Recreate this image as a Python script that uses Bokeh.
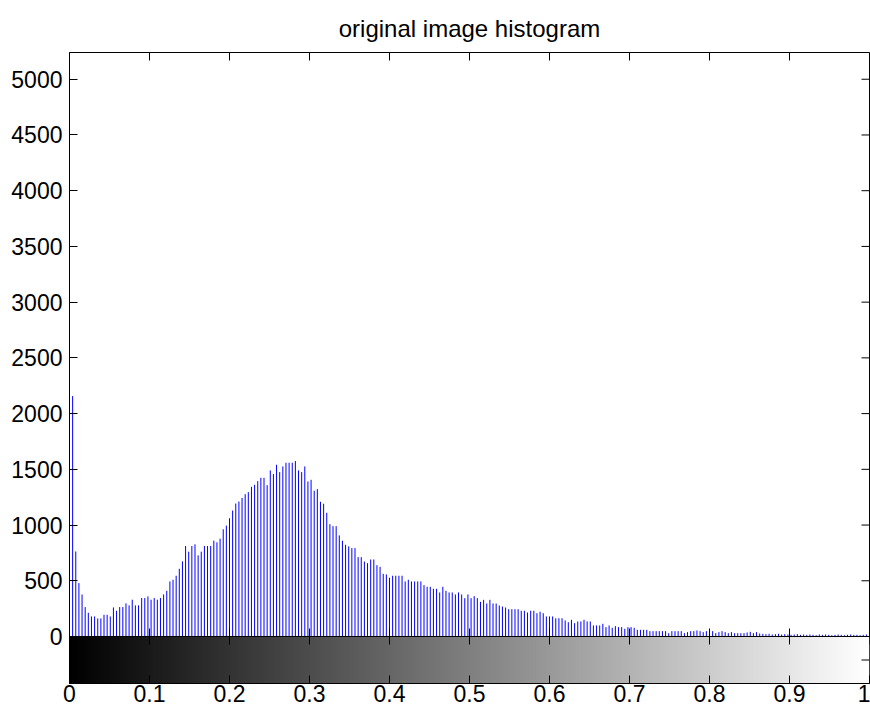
import numpy as np
from bokeh.plotting import figure
from bokeh.models import Range1d, FixedTicker, LinearAxis, Span, LinearColorMapper
from bokeh.palettes import gray
from bokeh.embed import file_html
from bokeh.resources import INLINE

title_text = "original image histogram"

x_ticks = [0, 0.1, 0.2, 0.3, 0.4, 0.5, 0.6, 0.7, 0.8, 0.9, 1]
x_tick_labels = ["0", "0.1", "0.2", "0.3", "0.4", "0.5", "0.6", "0.7", "0.8", "0.9", "1"]
y_ticks = [0, 500, 1000, 1500, 2000, 2500, 3000, 3500, 4000, 4500, 5000]
y_tick_labels = ["0", "500", "1000", "1500", "2000", "2500", "3000", "3500", "4000", "4500", "5000"]
y_max = 5240

# pixel counts for the 256 grey levels
counts_dark = [5600,
    2157, 763, 479, 377, 264, 213, 180, 180, 162, 162,
    195, 195, 180, 261, 231, 264, 264, 297, 279, 330,
    279, 279, 345, 345, 360, 330, 345, 330, 345, 377,
    410, 494, 509, 545, 608, 674, 812, 761, 812, 827,
    728, 761, 812, 812, 812, 860, 845, 878, 962, 995,
    1061, 1130, 1193, 1211, 1244, 1277, 1295, 1343, 1361, 1394]
counts_peak = [
    1424, 1424, 1358, 1490, 1457, 1541, 1475, 1526, 1559, 1559,
    1559, 1574, 1490, 1475, 1526, 1391, 1406, 1308, 1323, 1209,
    1191, 1110, 1008, 990, 990, 907, 859, 823, 808, 793,
    793, 712, 712, 673, 658, 691, 691, 640, 625, 562,
    557, 527, 545]
counts_mid = [
    545, 545, 545, 494, 509, 494, 494, 494, 494, 461,
    446, 446, 428, 428, 395, 446, 410, 395, 395, 377,
    395, 377, 344, 377, 344, 362, 344, 311, 329, 296,
    329, 296, 296, 278, 269, 260, 245, 245, 245, 245,
    231, 231, 215, 231, 231, 209, 222, 209, 180, 180,
    180, 164, 164, 164, 144, 128, 150, 120, 135, 135,
    150, 135, 135, 99, 99, 99, 114, 84, 99, 78,
    93]
counts_light = [
    84, 84, 69, 84, 84, 78, 60, 60, 60, 60,
    48, 48, 48, 48, 48, 48, 30, 48, 48, 48,
    48, 30, 39, 48, 48, 54, 48, 39, 48, 60,
    48, 30, 39, 48, 39, 30, 39, 30, 30, 30,
    30]
counts_bright = [
    36, 42, 30, 39, 27, 24, 21, 24, 18, 21,
    24, 18, 21, 18, 15, 18, 21, 15, 18, 15,
    18, 15, 12, 18, 15, 18, 15, 12, 15, 18,
    15, 12, 15, 18, 15, 15, 12, 15, 18, 15]

counts = counts_dark + counts_peak + counts_mid + counts_light + counts_bright
n_bins = len(counts)
levels = np.arange(n_bins) / (n_bins - 1)

FONT = "Liberation Sans"
FS = "23px"
main_px = 584
cb_px = 47
cb_depth = y_max * cb_px / main_px

p = figure(frame_width=800, frame_height=main_px + cb_px,
           x_range=Range1d(0, 1), y_range=Range1d(-cb_depth, y_max),
           x_axis_location=None, y_axis_location=None,
           output_backend="svg", toolbar_location=None,
           min_border_left=69, min_border_right=1, min_border_top=52, min_border_bottom=30,
           background_fill_color="white", border_fill_color="white")
p.grid.visible = False
p.outline_line_color = "black"

p.title.text = title_text
p.title.align = "center"
p.title.text_font = FONT
p.title.text_font_size = "24px"
p.title.text_font_style = "normal"
p.title.text_color = "black"
p.title.standoff = 22

def style_axis(ax):
    ax.major_tick_in = 8
    ax.major_tick_out = 0
    ax.minor_tick_line_color = None
    ax.axis_line_color = "black"
    ax.major_tick_line_color = "black"
    ax.major_label_text_font = FONT
    ax.major_label_text_font_size = FS
    ax.major_label_text_color = "black"

left = LinearAxis(ticker=FixedTicker(ticks=y_ticks),
                  major_label_overrides=dict(zip(y_ticks, y_tick_labels)))
style_axis(left)
left.major_label_standoff = 7
p.add_layout(left, "left")

bottom = LinearAxis(ticker=FixedTicker(ticks=x_ticks),
                    major_label_overrides=dict(zip(x_ticks, x_tick_labels)))
style_axis(bottom)
bottom.major_label_standoff = 1
p.add_layout(bottom, "below")

# grey colour bar below the histogram
mapper = LinearColorMapper(palette=gray(256), low=0, high=255)
p.image(image=[np.arange(256, dtype=float).reshape(1, 256)], x=0, y=-cb_depth,
        dw=1, dh=cb_depth, color_mapper=mapper)

# histogram stems
p.segment(x0=levels, y0=0, x1=levels, y1=counts, line_color="#0000ff", line_width=1)

# boundary between histogram and colour bar, with its tick marks
p.add_layout(Span(location=0, dimension="width", line_color="black", line_width=1))
p.scatter(x=x_ticks, y=[0] * len(x_ticks), marker="dash", size=16, angle=np.pi / 2,
          line_color="black", line_width=1)

# inward tick marks on the top and right edges
p.scatter(x=x_ticks, y=[y_max] * len(x_ticks), marker="dash", size=16, angle=np.pi / 2,
          line_color="black", line_width=1)
right_ticks = y_ticks + [-cb_depth / 2]
p.scatter(x=[1] * len(right_ticks), y=right_ticks, marker="dash", size=16,
          line_color="black", line_width=1)

open("out.html", "w").write(file_html(p, INLINE))
